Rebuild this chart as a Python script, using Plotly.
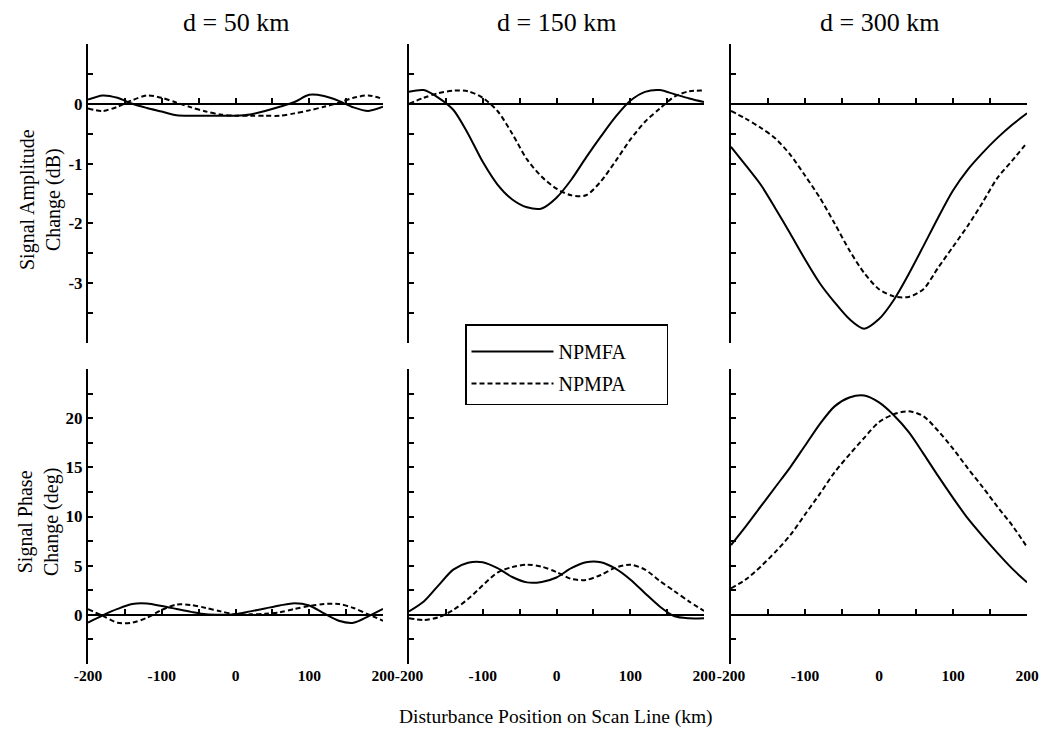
import plotly.graph_objects as go
import numpy as np

# ---------------- data ----------------
x_km = list(range(-200, 201, 20))

amp_50_npmfa = [0.07, 0.14, 0.10, 0.00, -0.07, -0.13, -0.19, -0.20, -0.20, -0.20, -0.20,
                -0.18, -0.12, -0.05, 0.03, 0.15, 0.13, 0.05, -0.06, -0.12, -0.05]
amp_50_npmpa = [-0.08, -0.12, -0.05, 0.06, 0.14, 0.10, 0.02, -0.06, -0.13, -0.18, -0.20,
                -0.20, -0.20, -0.20, -0.16, -0.11, -0.05, 0.02, 0.10, 0.14, 0.08]
amp_150_npmfa = [0.20, 0.23, 0.10, -0.10, -0.50, -0.97, -1.35, -1.60, -1.73, -1.75, -1.57,
                 -1.27, -0.90, -0.55, -0.22, 0.05, 0.20, 0.23, 0.16, 0.09, 0.03]
amp_150_npmpa = [0.00, 0.10, 0.18, 0.22, 0.21, 0.10, -0.12, -0.50, -0.93, -1.22, -1.42,
                 -1.53, -1.53, -1.30, -0.96, -0.60, -0.30, -0.08, 0.12, 0.21, 0.22]
amp_300_npmfa = [-0.72, -1.03, -1.35, -1.75, -2.17, -2.60, -3.00, -3.32, -3.60, -3.76, -3.60,
                 -3.28, -2.85, -2.38, -1.90, -1.45, -1.10, -0.82, -0.57, -0.35, -0.16]
amp_300_npmpa = [-0.12, -0.25, -0.40, -0.58, -0.85, -1.20, -1.57, -2.00, -2.45, -2.83, -3.10,
                 -3.22, -3.23, -3.10, -2.74, -2.39, -2.04, -1.65, -1.24, -0.95, -0.65]

phase_50_npmfa = [-0.78, -0.05, 0.60, 1.10, 1.15, 0.90, 0.60, 0.30, 0.05, 0.00, 0.05,
                  0.35, 0.65, 0.95, 1.18, 0.95, 0.15, -0.60, -0.80, -0.15, 0.60]
phase_50_npmpa = [0.57, -0.10, -0.80, -0.80, -0.30, 0.50, 1.05, 1.00, 0.70, 0.35, 0.05,
                  0.05, 0.10, 0.25, 0.60, 0.90, 1.10, 1.10, 0.70, 0.05, -0.60]
phase_150_npmfa = [0.34, 1.35, 3.00, 4.60, 5.30, 5.35, 4.75, 3.85, 3.30, 3.35, 3.80,
                   4.75, 5.35, 5.35, 4.70, 3.60, 2.20, 0.85, -0.15, -0.35, -0.34]
phase_150_npmpa = [-0.34, -0.53, -0.25, 0.50, 1.60, 3.00, 4.30, 4.85, 5.10, 4.90, 4.35,
                   3.65, 3.55, 4.05, 4.80, 5.10, 4.60, 3.45, 2.40, 1.35, 0.40]
phase_300_npmfa = [7.1, 9.0, 11.0, 13.0, 15.0, 17.2, 19.4, 21.2, 22.1, 22.3, 21.6,
                   20.3, 18.6, 16.4, 14.1, 11.9, 9.8, 8.0, 6.3, 4.7, 3.3]
phase_300_npmpa = [2.7, 3.6, 4.9, 6.4, 8.1, 10.2, 12.3, 14.5, 16.3, 18.0, 19.6,
                   20.4, 20.7, 20.2, 18.7, 16.9, 14.9, 13.0, 11.0, 9.1, 6.9]

panel_titles = ["d = 50 km", "d = 150 km", "d = 300 km"]
series_names = ["NPMFA", "NPMPA"]

amp_tickvals = [-4, -3.5, -3, -2.5, -2, -1.5, -1, -0.5, 0, 0.5, 1]
amp_ticktext = ["", "", "-3", "", "-2", "", "-1", "", "0", "", ""]
phase_tickvals = [-5, -2.5, 0, 2.5, 5, 7.5, 10, 12.5, 15, 17.5, 20, 22.5, 25]
phase_ticktext = ["", "", "0", "", "5", "", "10", "", "15", "", "20", "", ""]
x_tickvals = [-200, -100, 0, 100, 200]
x_ticktext = ["-200", "-100", "0", "100", "200"]

amp_title = "Signal Amplitude<br>Change (dB)"
phase_title = "Signal Phase<br>Change (deg)"
x_title = "Disturbance Position on Scan Line (km)"

# ---------------- layout geometry ----------------
W, H = 1043, 731
SERIF = "Liberation Serif, Times New Roman, serif"


def px_x(p):
    return p / W


def px_y(p):
    return 1 - p / H


x_domains = [[px_x(88), px_x(383)], [px_x(409), px_x(704)], [px_x(731), px_x(1027)]]
y_domains = [[px_y(343), px_y(44)], [px_y(664), px_y(369)]]
y_ranges = [[-4, 1], [-5, 25]]

amp_series = [(amp_50_npmfa, amp_50_npmpa), (amp_150_npmfa, amp_150_npmpa),
              (amp_300_npmfa, amp_300_npmpa)]
phase_series = [(phase_50_npmfa, phase_50_npmpa), (phase_150_npmfa, phase_150_npmpa),
                (phase_300_npmfa, phase_300_npmpa)]

fig = go.Figure()
styles = [dict(color="black", width=2, dash="solid"),
          dict(color="black", width=2, dash="5px,3px")]
legend_names = [n + "\u00a0" * 7 for n in series_names]

layout = dict(
    template="none",
    width=W, height=H,
    margin=dict(l=0, r=0, t=0, b=0, pad=0),
    paper_bgcolor="white", plot_bgcolor="rgba(0,0,0,0)",
    font=dict(family=SERIF, color="black"),
    showlegend=True,
    legend=dict(x=px_x(465), y=px_y(324), xanchor="left", yanchor="top",
                bgcolor="white", bordercolor="black", borderwidth=1.5,
                font=dict(family=SERIF, size=20, color="black"),
                title=dict(text="\u00a0", font=dict(size=5)),
                traceorder="grouped", tracegroupgap=3, itemwidth=82),
)

for r in range(2):
    data = amp_series if r == 0 else phase_series
    for c in range(3):
        i = r * 3 + c + 1
        for s in range(2):
            fig.add_trace(go.Scatter(
                x=x_km, y=data[c][s], mode="lines",
                line=dict(shape="spline", smoothing=0.8, **styles[s]),
                name=legend_names[s], legendgroup=series_names[s],
                showlegend=(i == 1), xaxis=f"x{i}", yaxis=f"y{i}", hoverinfo="skip"))
        y0, y1 = y_domains[r]
        lo, hi = y_ranges[r]
        zero_pos = y0 + (0 - lo) / (hi - lo) * (y1 - y0)
        layout[f"xaxis{i}"] = dict(
            domain=x_domains[c], range=[-200, 200], anchor="free", position=zero_pos,
            showline=True, linecolor="black", linewidth=2,
            ticks="inside", ticklen=5, tickwidth=1.5, tickcolor="black",
            tickmode="linear", tick0=-200, dtick=50, showticklabels=False,
            showgrid=False, zeroline=False, fixedrange=True, automargin=False)
        layout[f"yaxis{i}"] = dict(
            domain=y_domains[r], range=y_ranges[r], anchor=f"x{i}",
            showline=True, linecolor="black", linewidth=2,
            ticks="inside", ticklen=5, tickwidth=1.5, tickcolor="black",
            tickmode="array",
            tickvals=amp_tickvals if r == 0 else phase_tickvals,
            ticktext=amp_ticktext if r == 0 else phase_ticktext,
            showticklabels=(c == 0),
            tickfont=dict(family=SERIF, size=17, color="black", weight="bold"),
            showgrid=False, zeroline=False, fixedrange=True, automargin=False)

# label axes under the bottom row
for c in range(3):
    j = 7 + c
    fig.add_trace(go.Scatter(x=[], y=[], xaxis=f"x{j}", yaxis=f"y{4 + c}",
                             showlegend=False, hoverinfo="skip"))
    layout[f"xaxis{j}"] = dict(
        domain=x_domains[c], range=[-200, 200], anchor="free", position=y_domains[1][0],
        overlaying=f"x{4 + c}", showline=False, ticks="", tickmode="array",
        tickvals=x_tickvals, ticktext=x_ticktext,
        tickfont=dict(family=SERIF, size=15.5, color="black", weight="bold"),
        showgrid=False, zeroline=False, fixedrange=True, automargin=False)

annotations = []
for c in range(3):
    annotations.append(dict(
        text=panel_titles[c], x=sum(x_domains[c]) / 2, y=px_y(22),
        xref="paper", yref="paper", xanchor="center", yanchor="middle", showarrow=False,
        font=dict(family=SERIF, size=26, color="black")))
annotations.append(dict(text=amp_title, x=px_x(40), y=px_y(200), xref="paper", yref="paper",
                        xanchor="center", yanchor="middle", showarrow=False, textangle=-90,
                        font=dict(family=SERIF, size=20, color="black")))
annotations.append(dict(text=phase_title, x=px_x(38), y=px_y(522), xref="paper", yref="paper",
                        xanchor="center", yanchor="middle", showarrow=False, textangle=-90,
                        font=dict(family=SERIF, size=20, color="black")))
annotations.append(dict(text=x_title, x=px_x(556), y=px_y(717), xref="paper", yref="paper",
                        xanchor="center", yanchor="middle", showarrow=False,
                        font=dict(family=SERIF, size=19.5, color="black")))
layout["annotations"] = annotations

fig.update_layout(**layout)
fig.write_html("out.html")
